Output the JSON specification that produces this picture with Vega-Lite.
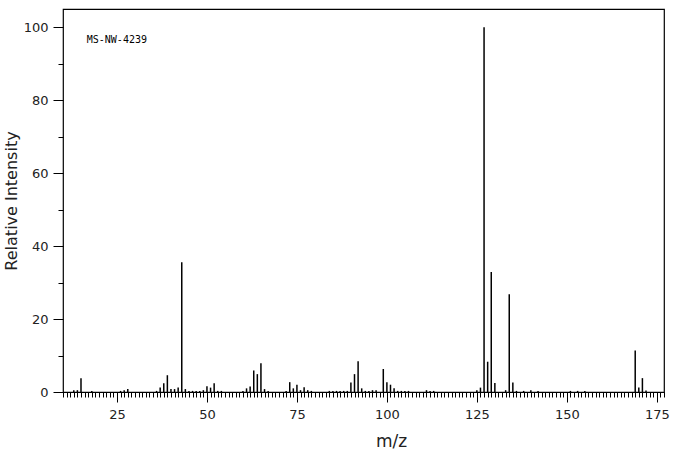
{
  "$schema": "https://vega.github.io/schema/vega-lite/v6.json",
  "width": 601,
  "height": 383,
  "autosize": "none",
  "padding": {"left": 63, "top": 9, "right": 12, "bottom": 63},
  "background": "white",
  "config": {
    "view": {"stroke": "black", "strokeWidth": 1.2},
    "axis": {
      "domain": false,
      "grid": false,
      "tickColor": "black",
      "tickWidth": 1,
      "labelFont": "DejaVu Sans",
      "labelFontSize": 13,
      "labelColor": "#222",
      "titleFont": "DejaVu Sans",
      "titleFontSize": 17,
      "titleFontWeight": "normal",
      "titleColor": "#222",
      "labelOverlap": false,
      "labelFlush": false,
      "labelBound": false
    }
  },
  "encoding": {
    "x": {
      "field": "mz",
      "type": "quantitative",
      "scale": {"domain": [10, 177], "nice": false, "zero": false},
      "axis": {
        "title": "m/z",
        "values": [10,11,12,13,14,15,16,17,18,19,20,21,22,23,24,25,26,27,28,29,30,31,32,33,34,35,36,37,38,39,40,41,42,43,44,45,46,47,48,49,50,51,52,53,54,55,56,57,58,59,60,61,62,63,64,65,66,67,68,69,70,71,72,73,74,75,76,77,78,79,80,81,82,83,84,85,86,87,88,89,90,91,92,93,94,95,96,97,98,99,100,101,102,103,104,105,106,107,108,109,110,111,112,113,114,115,116,117,118,119,120,121,122,123,124,125,126,127,128,129,130,131,132,133,134,135,136,137,138,139,140,141,142,143,144,145,146,147,148,149,150,151,152,153,154,155,156,157,158,159,160,161,162,163,164,165,166,167,168,169,170,171,172,173,174,175,176,177],
        "labelExpr": "datum.value % 25 === 0 ? datum.label : ''",
        "tickSize": {"condition": {"test": "datum.value % 25 === 0", "value": 10}, "value": 5},
        "labelPadding": 6,
        "titleX": 328,
        "titleY": 54,
        "titleBaseline": "alphabetic",
        "titleAlign": "center"
      }
    },
    "y": {
      "field": "intensity",
      "type": "quantitative",
      "scale": {"domain": [0, 105], "nice": false},
      "axis": {
        "title": "Relative Intensity",
        "values": [0, 10, 20, 30, 40, 50, 60, 70, 80, 90, 100],
        "labelExpr": "datum.value % 20 === 0 ? datum.label : ''",
        "tickSize": {"condition": {"test": "datum.value % 20 === 0", "value": 10}, "value": 5},
        "labelPadding": 5,
        "titleFontSize": 16,
        "titleX": -47,
        "titleBaseline": "alphabetic"
      }
    }
  },
  "layer": [
    {
      "data": {
        "values": [
          {"mz": 13, "intensity": 0.5}, {"mz": 14, "intensity": 0.5}, {"mz": 15, "intensity": 3.8},
          {"mz": 18, "intensity": 0.3}, {"mz": 26, "intensity": 0.3}, {"mz": 27, "intensity": 0.5},
          {"mz": 28, "intensity": 0.8}, {"mz": 36, "intensity": 0.3}, {"mz": 37, "intensity": 1.2},
          {"mz": 38, "intensity": 2.4}, {"mz": 39, "intensity": 4.6}, {"mz": 40, "intensity": 0.8},
          {"mz": 41, "intensity": 0.8}, {"mz": 42, "intensity": 1.2}, {"mz": 43, "intensity": 35.6},
          {"mz": 44, "intensity": 0.8}, {"mz": 45, "intensity": 0.3}, {"mz": 46, "intensity": 0.3},
          {"mz": 47, "intensity": 0.3}, {"mz": 48, "intensity": 0.3}, {"mz": 49, "intensity": 0.5},
          {"mz": 50, "intensity": 1.6}, {"mz": 51, "intensity": 1.2}, {"mz": 52, "intensity": 2.4},
          {"mz": 53, "intensity": 0.3}, {"mz": 54, "intensity": 0.3}, {"mz": 60, "intensity": 0.3},
          {"mz": 61, "intensity": 1.0}, {"mz": 62, "intensity": 1.5}, {"mz": 63, "intensity": 5.9},
          {"mz": 64, "intensity": 4.9}, {"mz": 65, "intensity": 7.9}, {"mz": 66, "intensity": 0.8},
          {"mz": 67, "intensity": 0.3}, {"mz": 72, "intensity": 0.3}, {"mz": 73, "intensity": 2.7},
          {"mz": 74, "intensity": 1.0}, {"mz": 75, "intensity": 2.0}, {"mz": 76, "intensity": 0.5},
          {"mz": 77, "intensity": 1.3}, {"mz": 78, "intensity": 0.5}, {"mz": 79, "intensity": 0.3},
          {"mz": 84, "intensity": 0.3}, {"mz": 85, "intensity": 0.3}, {"mz": 86, "intensity": 0.3},
          {"mz": 87, "intensity": 0.3}, {"mz": 88, "intensity": 0.3}, {"mz": 89, "intensity": 0.3},
          {"mz": 90, "intensity": 2.6}, {"mz": 91, "intensity": 4.9}, {"mz": 92, "intensity": 8.4},
          {"mz": 93, "intensity": 1.0}, {"mz": 94, "intensity": 0.3}, {"mz": 95, "intensity": 0.3},
          {"mz": 96, "intensity": 0.5}, {"mz": 97, "intensity": 0.5}, {"mz": 99, "intensity": 6.3},
          {"mz": 100, "intensity": 2.7}, {"mz": 101, "intensity": 2.0}, {"mz": 102, "intensity": 1.0},
          {"mz": 103, "intensity": 0.3}, {"mz": 104, "intensity": 0.3}, {"mz": 105, "intensity": 0.3},
          {"mz": 106, "intensity": 0.3}, {"mz": 111, "intensity": 0.5}, {"mz": 112, "intensity": 0.3},
          {"mz": 113, "intensity": 0.3}, {"mz": 125, "intensity": 0.5}, {"mz": 126, "intensity": 1.2},
          {"mz": 127, "intensity": 100}, {"mz": 128, "intensity": 8.3}, {"mz": 129, "intensity": 32.9},
          {"mz": 130, "intensity": 2.5}, {"mz": 133, "intensity": 0.5}, {"mz": 134, "intensity": 26.8},
          {"mz": 135, "intensity": 2.6}, {"mz": 136, "intensity": 0.3}, {"mz": 138, "intensity": 0.3},
          {"mz": 140, "intensity": 0.5}, {"mz": 142, "intensity": 0.3}, {"mz": 151, "intensity": 0.3},
          {"mz": 153, "intensity": 0.3}, {"mz": 155, "intensity": 0.3}, {"mz": 169, "intensity": 11.4},
          {"mz": 170, "intensity": 1.2}, {"mz": 171, "intensity": 3.8}, {"mz": 172, "intensity": 0.4}
        ]
      },
      "mark": {"type": "rule", "color": "black", "strokeWidth": 1.5},
      "encoding": {
        "y2": {"datum": 0}
      }
    },
    {
      "data": {"values": [{"mz": 16.6, "intensity": 96.4, "label": "MS-NW-4239"}]},
      "mark": {"type": "text", "align": "left", "baseline": "middle", "font": "DejaVu Sans Mono", "fontSize": 10, "color": "black"},
      "encoding": {
        "text": {"field": "label"}
      }
    }
  ]
}
